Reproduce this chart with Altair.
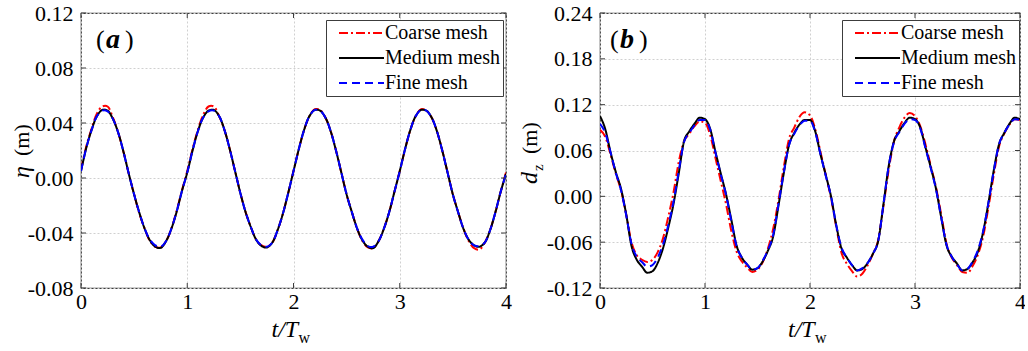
import altair as alt
import pandas as pd

FONT = "Liberation Serif"
FRAME = "#3c3c3c"

# sample times (t/Tw), step 0.05
T = [round(0.05 * i, 2) for i in range(81)]
SERIES = ["Coarse mesh", "Medium mesh", "Fine mesh"]
COLORS = ["#ff0000", "#000000", "#0000ff"]
DASHES = [[9, 3, 2, 3], [1, 0], [8, 5]]

X_TICKS = [0, 1, 2, 3, 4]
ETA_TICKS = [-0.08, -0.04, 0.0, 0.04, 0.08, 0.12]
DZ_TICKS = [-0.12, -0.06, 0.0, 0.06, 0.12, 0.18, 0.24]

# panel (a): free-surface elevation eta (m)
eta_coarse = [
    0.006, 0.023, 0.036, 0.047, 0.052, 0.052, 0.044, 0.033, 0.019, 0.003, -0.012, -0.026, -0.037, -0.046, -0.050, -0.0505, -0.046, -0.037, -0.024, -0.009,
    0.005, 0.021, 0.035, 0.046, 0.052, 0.052, 0.045, 0.035, 0.021, 0.005, -0.011, -0.025, -0.036, -0.045, -0.049, -0.050, -0.047, -0.038, -0.026, -0.011,
    0.005, 0.021, 0.035, 0.045, 0.050, 0.0495, 0.044, 0.034, 0.020, 0.004, -0.012, -0.025, -0.037, -0.046, -0.0505, -0.051, -0.046, -0.037, -0.025, -0.010,
    0.005, 0.021, 0.035, 0.045, 0.050, 0.049, 0.044, 0.034, 0.020, 0.004, -0.012, -0.025, -0.037, -0.046, -0.051, -0.052, -0.047, -0.038, -0.025, -0.010,
    0.004,
]
eta_medium = [
    0.005, 0.022, 0.035, 0.045, 0.0495, 0.049, 0.043, 0.033, 0.019, 0.003, -0.012, -0.0255, -0.037, -0.0455, -0.050, -0.0508, -0.046, -0.037, -0.0246, -0.0095,
    0.004, 0.020, 0.034, 0.044, 0.049, 0.0495, 0.045, 0.035, 0.021, 0.005, -0.011, -0.025, -0.036, -0.045, -0.0495, -0.0505, -0.047, -0.038, -0.026, -0.011,
    0.005, 0.021, 0.035, 0.045, 0.0495, 0.049, 0.044, 0.034, 0.020, 0.004, -0.012, -0.025, -0.037, -0.0455, -0.050, -0.051, -0.046, -0.037, -0.025, -0.010,
    0.005, 0.021, 0.035, 0.045, 0.0495, 0.049, 0.044, 0.034, 0.020, 0.004, -0.012, -0.025, -0.037, -0.045, -0.049, -0.050, -0.047, -0.038, -0.025, -0.010,
    0.003,
]
eta_fine = [
    0.005, 0.022, 0.035, 0.045, 0.049, 0.0485, 0.043, 0.033, 0.019, 0.003, -0.012, -0.0255, -0.037, -0.045, -0.049, -0.050, -0.046, -0.037, -0.0245, -0.0095,
    0.004, 0.020, 0.034, 0.044, 0.0485, 0.049, 0.045, 0.035, 0.021, 0.005, -0.011, -0.025, -0.036, -0.045, -0.049, -0.050, -0.047, -0.038, -0.026, -0.011,
    0.005, 0.021, 0.035, 0.045, 0.0495, 0.049, 0.044, 0.034, 0.020, 0.004, -0.012, -0.025, -0.037, -0.045, -0.0495, -0.050, -0.046, -0.037, -0.025, -0.010,
    0.005, 0.021, 0.035, 0.045, 0.0495, 0.049, 0.044, 0.034, 0.020, 0.004, -0.012, -0.025, -0.037, -0.045, -0.049, -0.0495, -0.047, -0.038, -0.025, -0.010,
    0.003,
]

# panel (b): heave displacement dz (m)
dz_coarse = [
    0.087, 0.078, 0.055, 0.030, 0.008, -0.024, -0.060, -0.077, -0.083, -0.086, -0.083, -0.073, -0.055, -0.027, 0.005, 0.045, 0.072, 0.082, 0.092, 0.098,
    0.096, 0.080, 0.050, 0.020, -0.010, -0.045, -0.072, -0.085, -0.093, -0.099, -0.096, -0.086, -0.068, -0.042, -0.005, 0.038, 0.075, 0.090, 0.104, 0.110,
    0.106, 0.088, 0.058, 0.028, -0.002, -0.040, -0.074, -0.088, -0.098, -0.105, -0.101, -0.090, -0.075, -0.057, -0.012, 0.035, 0.072, 0.090, 0.103, 0.109,
    0.105, 0.092, 0.068, 0.040, 0.012, -0.024, -0.062, -0.080, -0.090, -0.099, -0.100, -0.091, -0.076, -0.052, -0.014, 0.028, 0.065, 0.082, 0.094, 0.101,
    0.100,
]
dz_medium = [
    0.105, 0.088, 0.058, 0.032, 0.010, -0.024, -0.065, -0.083, -0.092, -0.100, -0.098, -0.087, -0.068, -0.041, -0.010, 0.030, 0.072, 0.085, 0.095, 0.103,
    0.101, 0.088, 0.058, 0.030, 0.003, -0.030, -0.064, -0.080, -0.089, -0.096, -0.094, -0.085, -0.071, -0.052, -0.012, 0.030, 0.067, 0.083, 0.094, 0.100,
    0.100, 0.085, 0.055, 0.028, 0.000, -0.038, -0.068, -0.080, -0.090, -0.097, -0.095, -0.087, -0.075, -0.058, -0.010, 0.040, 0.072, 0.085, 0.096, 0.103,
    0.101, 0.090, 0.064, 0.038, 0.010, -0.028, -0.064, -0.079, -0.088, -0.097, -0.095, -0.086, -0.072, -0.046, -0.008, 0.034, 0.068, 0.083, 0.095, 0.103,
    0.101,
]
dz_fine = [
    0.095, 0.083, 0.058, 0.031, 0.008, -0.025, -0.062, -0.079, -0.086, -0.092, -0.090, -0.080, -0.063, -0.038, -0.007, 0.033, 0.071, 0.083, 0.093, 0.100,
    0.100, 0.087, 0.057, 0.029, 0.002, -0.032, -0.065, -0.080, -0.089, -0.096, -0.094, -0.084, -0.070, -0.050, -0.010, 0.031, 0.067, 0.082, 0.093, 0.099,
    0.099, 0.084, 0.055, 0.027, 0.000, -0.038, -0.067, -0.080, -0.090, -0.097, -0.094, -0.087, -0.075, -0.058, -0.010, 0.040, 0.071, 0.084, 0.095, 0.101,
    0.100, 0.089, 0.063, 0.037, 0.009, -0.028, -0.063, -0.079, -0.089, -0.097, -0.095, -0.085, -0.070, -0.045, -0.008, 0.033, 0.068, 0.083, 0.094, 0.101,
    0.100,
]

H = 275
NEG_LABEL = "datum.value < 0 ? '-' + format(-datum.value, '.2f') : format(datum.value, '.2f')"


def txt(s, x, y, size, style="normal", weight="normal", angle=0, align="left", baseline="middle"):
    return alt.Chart(pd.DataFrame({"s": [s]})).mark_text(
        font=FONT, fontSize=size, fontStyle=style, fontWeight=weight,
        angle=angle, align=align, baseline=baseline, color="black"
    ).encode(x=alt.value(x), y=alt.value(y), text="s:N")


def panel(vals, yticks, W, interp, letter, letter_x, ytitle, legend_x):
    rows = []
    for name, series in zip(SERIES, vals):
        for t, v in zip(T, series):
            rows.append({"t": t, "v": v, "s": name})
    df = pd.DataFrame(rows)

    xscale = alt.Scale(domain=[0, 4], nice=False, zero=False)
    yscale = alt.Scale(domain=[yticks[0], yticks[-1]], nice=False, zero=False)
    xaxis = alt.Axis(values=X_TICKS, format="d", title=None, grid=True, ticks=False,
                     domain=False, labelPadding=3, labelFlush=False, labelOverlap=False)
    yaxis = alt.Axis(values=yticks, labelExpr=NEG_LABEL, title=None, grid=True, ticks=False,
                     domain=False, labelPadding=8, labelFlush=False, labelOverlap=False)
    legend = alt.Legend(
        orient="none", legendX=legend_x, legendY=7, title=None,
        labelFont=FONT, labelFontSize=20, labelColor="black", labelOffset=36,
        symbolType="M0,0H22.5", symbolSize=16, symbolStrokeWidth=2,
        strokeColor=FRAME, fillColor="white", padding=3, rowPadding=5,
    )
    lines = alt.Chart(df).mark_line(strokeWidth=2, interpolate=interp, clip=True).encode(
        x=alt.X("t:Q", scale=xscale, axis=xaxis),
        y=alt.Y("v:Q", scale=yscale, axis=yaxis),
        color=alt.Color("s:N", scale=alt.Scale(domain=SERIES, range=COLORS), legend=legend),
        strokeDash=alt.StrokeDash("s:N", scale=alt.Scale(domain=SERIES, range=DASHES), legend=legend),
    )

    xt = pd.DataFrame({"t": X_TICKS})
    yt = pd.DataFrame({"v": yticks})
    tick_top = alt.Chart(xt).mark_rule(color=FRAME).encode(
        x=alt.X("t:Q", scale=xscale, axis=xaxis), y=alt.value(0), y2=alt.value(5))
    tick_bot = alt.Chart(xt).mark_rule(color=FRAME).encode(
        x=alt.X("t:Q", scale=xscale, axis=xaxis), y=alt.value(H), y2=alt.value(H - 5))
    tick_l = alt.Chart(yt).mark_rule(color=FRAME).encode(
        y=alt.Y("v:Q", scale=yscale, axis=yaxis), x=alt.value(0), x2=alt.value(5))
    tick_r = alt.Chart(yt).mark_rule(color=FRAME).encode(
        y=alt.Y("v:Q", scale=yscale, axis=yaxis), x=alt.value(W), x2=alt.value(W - 5))

    texts = [
        txt("(", letter_x, 27, 26),
        txt(letter, letter_x + 10, 27, 28, style="italic", weight="bold"),
        txt(")", letter_x + 29, 27, 26),
        # x title: t/T_w
        txt("t/T", W / 2 - 22, 324, 24, style="italic", baseline="alphabetic"),
        txt("w", W / 2 + 5, 330, 16, baseline="alphabetic"),
    ] + ytitle

    return alt.layer(lines, tick_top, tick_bot, tick_l, tick_r, *texts).properties(width=W, height=H)


left_title = [
    txt("η", -59, 165, 24, style="italic", angle=270),
    txt("(m)", -59, 143, 22, angle=270),
]
right_title = [
    txt("d", -70, 171, 24, style="italic", angle=270),
    txt("z", -62, 158, 15, angle=270),
    txt("(m)", -70, 141, 22, angle=270),
]

left = panel([eta_coarse, eta_medium, eta_fine], ETA_TICKS, 425, "catmull-rom", "a", 15, left_title, 245)
right = panel([dz_coarse, dz_medium, dz_fine], DZ_TICKS, 420, "monotone", "b", 10, right_title, 242)

chart = alt.hconcat(left, right, spacing=94, bounds="flush").resolve_scale(
    color="independent", strokeDash="independent"
).properties(
    padding={"left": 9, "top": 1, "right": -2, "bottom": 0}
).configure_view(
    stroke=FRAME, strokeWidth=1.2
).configure_axis(
    labelFont=FONT, labelFontSize=22, labelColor="black",
    gridColor="#d0d0d0", gridDash=[2, 2], gridWidth=1,
)

chart.save("out.html", embed_options={"renderer": "svg", "actions": False})
